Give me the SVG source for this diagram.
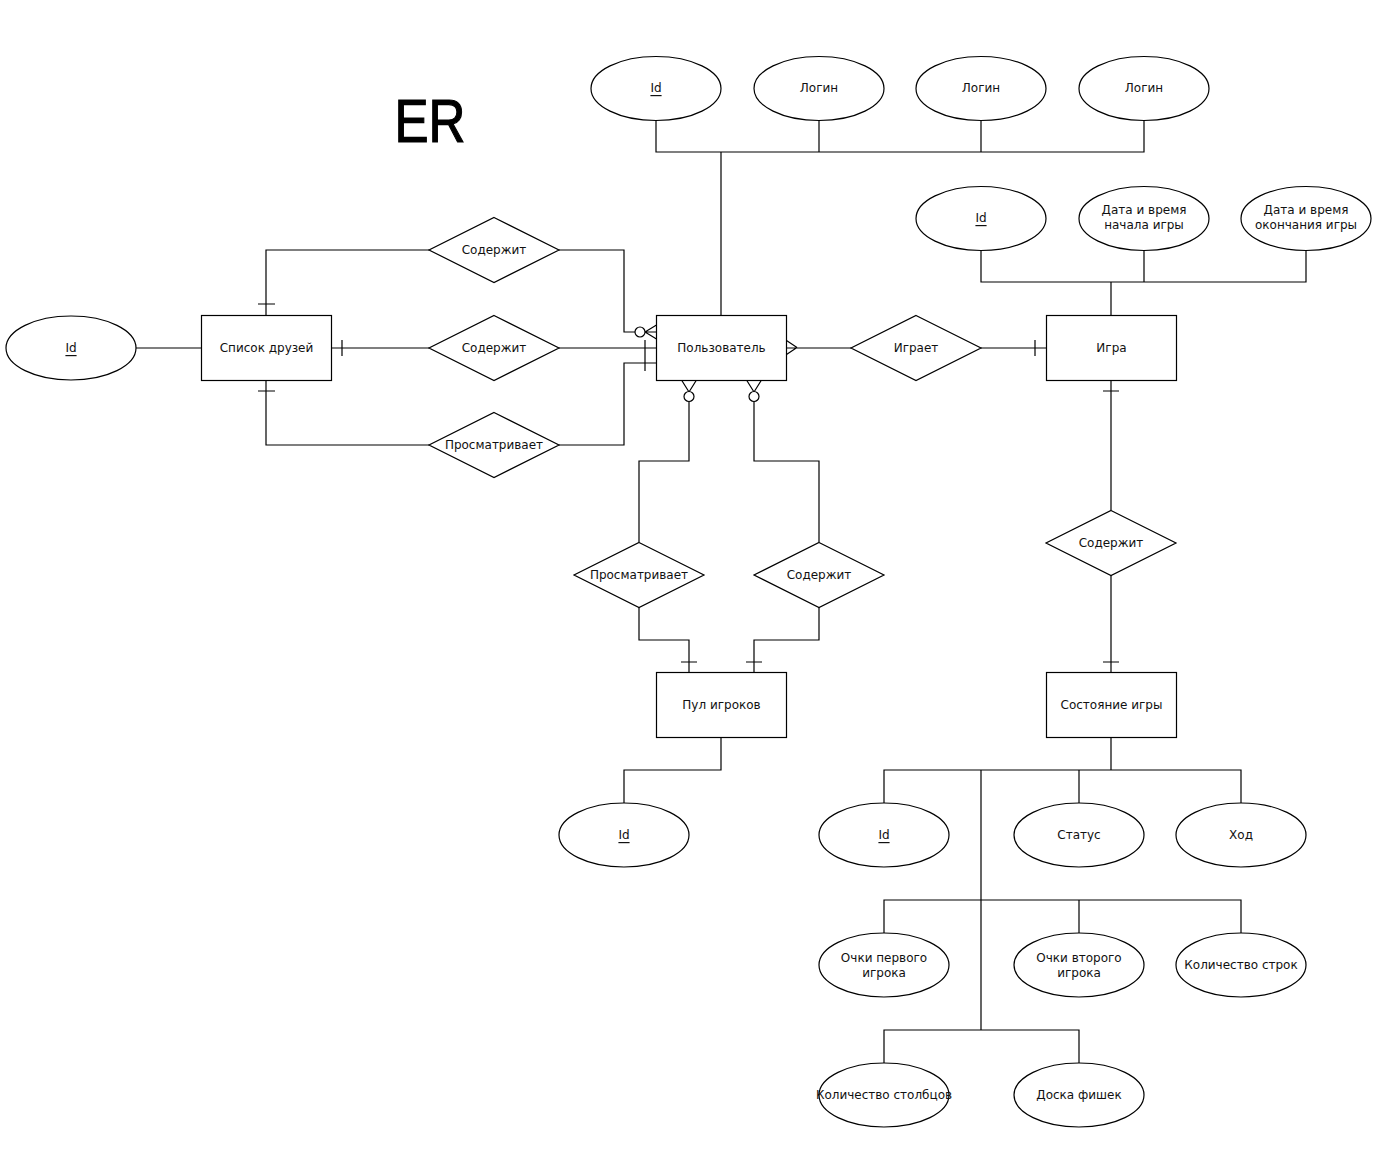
<svg xmlns="http://www.w3.org/2000/svg" width="1384" height="1162" viewBox="0 0 1384 1162">
<style>
.s{fill:#fff;stroke:#000;stroke-width:1.2}
.l{fill:none;stroke:#000;stroke-width:1.2}
.t{font-family:"DejaVu Sans","Liberation Sans",sans-serif;font-size:12px;fill:#111;text-anchor:middle;dominant-baseline:central}
.u{text-decoration:underline}
</style>
<rect width="1384" height="1162" fill="#fff"/>
<text x="430" y="142" font-family="'Liberation Sans',sans-serif" font-size="62" textLength="71" lengthAdjust="spacingAndGlyphs" text-anchor="middle" fill="#000" stroke="#000" stroke-width="1.2">ER</text>
<g id="connectors">
<path class="l" d="M656 120V152H1144V120M819 120V152M981 120V152M721 152V315"/>
<path class="l" d="M981 250V282H1306V250M1144 250V282M1111 282V315"/>
<path class="l" d="M136 348H201"/>
<path class="l" d="M429 250H266V315M258 304H275"/>
<path class="l" d="M559 250H624V332H635M645 332L656.5 325M645 332L656.5 339M645 332H656.5"/>
<circle class="s" cx="640" cy="332" r="5"/>
<path class="l" d="M331 348H429M342 340V356M559 348H656"/>
<path class="l" d="M429 445H266V380M258 391H275"/>
<path class="l" d="M559 445H624V363H656M645 340V371"/>
<path class="l" d="M786 348H851M786.5 340.5L797 347.5M786.5 354.5L797 347.5M981 348H1046M1035 340V356"/>
<path class="l" d="M1111 380V510M1103 391H1119M1111 575V672M1103 662H1119"/>
<path class="l" d="M639 542V461H689V402M681.5 380L689 392M696.5 380L689 392"/>
<circle class="s" cx="689" cy="396.5" r="5"/>
<path class="l" d="M819 542V461H754V402M746.5 380L754 392M761.5 380L754 392"/>
<circle class="s" cx="754" cy="396.5" r="5"/>
<path class="l" d="M639 607V640H689V672M681 662H697"/>
<path class="l" d="M819 607V640H754V672M746 662H762"/>
<path class="l" d="M721 737V770H624V803"/>
<path class="l" d="M1111 737V770M884 803V770H1241V803M1079 770V803M981 770V1030"/>
<path class="l" d="M884 933V900H1241V933M1079 900V933"/>
<path class="l" d="M884 1063V1030H1079V1063"/>
</g>
<g id="user"><rect class="s" x="656.5" y="315.5" width="130" height="65"/><text class="t" x="721.5" y="348">Пользователь</text></g>
<g id="friends"><rect class="s" x="201.5" y="315.5" width="130" height="65"/><text class="t" x="266.5" y="348">Список друзей</text></g>
<g id="game"><rect class="s" x="1046.5" y="315.5" width="130" height="65"/><text class="t" x="1111.5" y="348">Игра</text></g>
<g id="pool"><rect class="s" x="656.5" y="672.5" width="130" height="65"/><text class="t" x="721.5" y="705">Пул игроков</text></g>
<g id="state"><rect class="s" x="1046.5" y="672.5" width="130" height="65"/><text class="t" x="1111.5" y="705">Состояние игры</text></g>
<g id="rel-contains-1"><polygon class="s" points="494,217.5 559,250 494,282.5 429,250"/><text class="t" x="494" y="250">Содержит</text></g>
<g id="rel-contains-2"><polygon class="s" points="494,315.5 559,348 494,380.5 429,348"/><text class="t" x="494" y="348">Содержит</text></g>
<g id="rel-views-1"><polygon class="s" points="494,412.5 559,445 494,477.5 429,445"/><text class="t" x="494" y="445">Просматривает</text></g>
<g id="rel-plays"><polygon class="s" points="916,315.5 981,348 916,380.5 851,348"/><text class="t" x="916" y="348">Играет</text></g>
<g id="rel-contains-3"><polygon class="s" points="1111,510.5 1176,543 1111,575.5 1046,543"/><text class="t" x="1111" y="543">Содержит</text></g>
<g id="rel-views-2"><polygon class="s" points="639,542.5 704,575 639,607.5 574,575"/><text class="t" x="639" y="575">Просматривает</text></g>
<g id="rel-contains-4"><polygon class="s" points="819,542.5 884,575 819,607.5 754,575"/><text class="t" x="819" y="575">Содержит</text></g>
<g id="attr-user-id"><ellipse class="s" cx="656" cy="88.5" rx="65" ry="32"/><text class="t u" x="656" y="88">Id</text></g>
<g id="attr-user-login1"><ellipse class="s" cx="819" cy="88.5" rx="65" ry="32"/><text class="t" x="819" y="88">Логин</text></g>
<g id="attr-user-login2"><ellipse class="s" cx="981" cy="88.5" rx="65" ry="32"/><text class="t" x="981" y="88">Логин</text></g>
<g id="attr-user-login3"><ellipse class="s" cx="1144" cy="88.5" rx="65" ry="32"/><text class="t" x="1144" y="88">Логин</text></g>
<g id="attr-game-id"><ellipse class="s" cx="981" cy="218.5" rx="65" ry="32"/><text class="t u" x="981" y="218">Id</text></g>
<g id="attr-game-start"><ellipse class="s" cx="1144" cy="218.5" rx="65" ry="32"/><text class="t" x="1144" y="210">Дата и время</text><text class="t" x="1144" y="225">начала игры</text></g>
<g id="attr-game-end"><ellipse class="s" cx="1306" cy="218.5" rx="65" ry="32"/><text class="t" x="1306" y="210">Дата и время</text><text class="t" x="1306" y="225">окончания игры</text></g>
<g id="attr-friends-id"><ellipse class="s" cx="71" cy="348" rx="65" ry="32"/><text class="t u" x="71" y="348">Id</text></g>
<g id="attr-pool-id"><ellipse class="s" cx="624" cy="835" rx="65" ry="32"/><text class="t u" x="624" y="835">Id</text></g>
<g id="attr-state-id"><ellipse class="s" cx="884" cy="835" rx="65" ry="32"/><text class="t u" x="884" y="835">Id</text></g>
<g id="attr-state-status"><ellipse class="s" cx="1079" cy="835" rx="65" ry="32"/><text class="t" x="1079" y="835">Статус</text></g>
<g id="attr-state-move"><ellipse class="s" cx="1241" cy="835" rx="65" ry="32"/><text class="t" x="1241" y="835">Ход</text></g>
<g id="attr-state-score1"><ellipse class="s" cx="884" cy="965" rx="65" ry="32"/><text class="t" x="884" y="958">Очки первого</text><text class="t" x="884" y="973">игрока</text></g>
<g id="attr-state-score2"><ellipse class="s" cx="1079" cy="965" rx="65" ry="32"/><text class="t" x="1079" y="958">Очки второго</text><text class="t" x="1079" y="973">игрока</text></g>
<g id="attr-state-rows"><ellipse class="s" cx="1241" cy="965" rx="65" ry="32"/><text class="t" x="1241" y="965">Количество строк</text></g>
<g id="attr-state-cols"><ellipse class="s" cx="884" cy="1095" rx="65" ry="32"/><text class="t" x="884" y="1095">Количество столбцов</text></g>
<g id="attr-state-board"><ellipse class="s" cx="1079" cy="1095" rx="65" ry="32"/><text class="t" x="1079" y="1095">Доска фишек</text></g>
</svg>
